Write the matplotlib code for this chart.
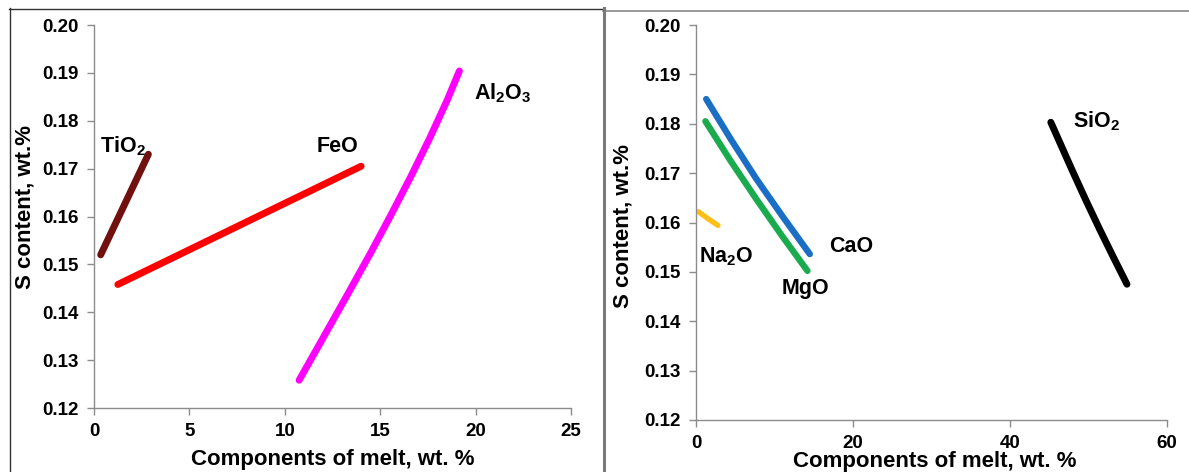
import matplotlib
matplotlib.use("Agg")
import matplotlib.pyplot as plt
from matplotlib.lines import Line2D
from matplotlib.ticker import FormatStrFormatter

plt.rcParams['font.family'] = ['Liberation Sans', 'DejaVu Sans']
plt.rcParams['font.weight'] = 'bold'
plt.rcParams['mathtext.default'] = 'regular'

# ---- data: left panel ----
tio2_x = [0.35, 2.85]
tio2_y = [0.1520, 0.1730]
feo_x = [1.25, 14.0]
feo_y = [0.1458, 0.1705]
al2o3_x = [10.75, 12.0, 13.3, 14.5, 15.6, 16.6, 17.6, 18.5, 19.15]
al2o3_y = [0.1258, 0.1346, 0.1438, 0.1524, 0.1606, 0.1683, 0.1764, 0.1842, 0.1904]

# ---- data: right panel ----
cao_x = [1.3, 4.5, 7.7, 11.0, 14.5]
cao_y = [0.1850, 0.1767, 0.1688, 0.1613, 0.1536]
mgo_x = [1.2, 4.4, 7.7, 11.0, 14.2]
mgo_y = [0.1805, 0.1725, 0.1647, 0.1572, 0.1502]
na2o_x = [0.3, 1.6, 2.8]
na2o_y = [0.1622, 0.1607, 0.1594]
sio2_x = [45.2, 46.6, 48.0, 49.7, 51.4, 53.1, 54.9]
sio2_y = [0.1803, 0.1753, 0.1703, 0.1644, 0.1587, 0.1532, 0.1475]

left_xticks = [0, 5, 10, 15, 20, 25]
right_xticks = [0, 20, 40, 60]
yticks = [0.12, 0.13, 0.14, 0.15, 0.16, 0.17, 0.18, 0.19, 0.20]

xlabel = "Components of melt, wt. %"
ylabel = "S content, wt.%"

W, H = 1189, 472
fig = plt.figure(figsize=(W / 100, H / 100), dpi=100)
fig.patch.set_facecolor('white')

axL = fig.add_axes([94 / W, (H - 408) / H, 477 / W, 383 / H])
axR = fig.add_axes([696 / W, (H - 420) / H, 471 / W, 395 / H])

gray = '#8c8c8c'
for ax in (axL, axR):
    ax.set_facecolor('white')
    for s in ('top', 'right'):
        ax.spines[s].set_visible(False)
    for s in ('left', 'bottom'):
        ax.spines[s].set_color(gray)
        ax.spines[s].set_linewidth(1.0)
    ax.tick_params(direction='out', length=5, width=1.0, color=gray,
                   labelsize=13.5, labelcolor='black', pad=6)
    ax.set_yticks(yticks)
    ax.set_ylim(0.12, 0.20)
    ax.yaxis.set_major_formatter(FormatStrFormatter('%.2f'))

axL.set_xlim(0, 25)
axL.set_xticks(left_xticks)
axR.set_xlim(0, 60)
axR.set_xticks(right_xticks)
for ax in (axL, axR):
    for lbl in ax.get_xticklabels() + ax.get_yticklabels():
        lbl.set_fontweight('bold')

lw = 5
kw = dict(solid_capstyle='round', solid_joinstyle='round')
axL.plot(tio2_x, tio2_y, color='#70100f', lw=lw, **kw)
axL.plot(feo_x, feo_y, color='#ff0000', lw=lw, **kw)
axL.plot(al2o3_x, al2o3_y, color='#ff00ff', lw=lw, **kw)

axR.plot(cao_x, cao_y, color='#1a6fc4', lw=4.6, **kw)
axR.plot(mgo_x, mgo_y, color='#1aab4f', lw=4.6, **kw)
axR.plot(na2o_x, na2o_y, color='#ffbf1a', lw=3.8, **kw)
axR.plot(sio2_x, sio2_y, color='black', lw=5, **kw)

fs = 15.5
axL.text(0.31, 0.1746, 'TiO$_2$', fontsize=fs, fontweight='bold', ha='left', va='center')
axL.text(12.74, 0.1746, 'FeO', fontsize=fs, fontweight='bold', ha='center', va='center')
axL.text(21.4, 0.1858, 'Al$_2$O$_3$', fontsize=fs, fontweight='bold', ha='center', va='center')

axR.text(50.96, 0.1806, 'SiO$_2$', fontsize=fs, fontweight='bold', ha='center', va='center')
axR.text(19.78, 0.1552, 'CaO', fontsize=fs, fontweight='bold', ha='center', va='center')
axR.text(3.86, 0.1530, 'Na$_2$O', fontsize=fs, fontweight='bold', ha='center', va='center')
axR.text(14.0, 0.1467, 'MgO', fontsize=fs, fontweight='bold', ha='center', va='center')

lfs = 16
fig.text(333 / W, 1 - 460 / H, xlabel, fontsize=lfs, fontweight='bold', ha='center', va='center')
fig.text(935 / W, 1 - 461 / H, xlabel, fontsize=lfs, fontweight='bold', ha='center', va='center')
fig.text(25 / W, 1 - 207 / H, ylabel, fontsize=lfs, fontweight='bold', ha='center', va='center', rotation=90)
fig.text(623 / W, 1 - 226 / H, ylabel, fontsize=lfs, fontweight='bold', ha='center', va='center', rotation=90)

# panel frames
def fline(x0, y0, x1, y1, **kw):
    fig.add_artist(Line2D([x0 / W, x1 / W], [1 - y0 / H, 1 - y1 / H], transform=fig.transFigure, **kw))

fline(9, 8.5, 603, 8.5, color='#333333', lw=1.0)
fline(9.5, 8, 9.5, 472, color='#333333', lw=1.0)
fline(603, 10.5, 1189, 10.5, color='#888888', lw=1.2)
fline(603.5, 8, 603.5, 472, color='#7a7a7a', lw=2.2)

fig.savefig('out.png', dpi=100, facecolor='white')
